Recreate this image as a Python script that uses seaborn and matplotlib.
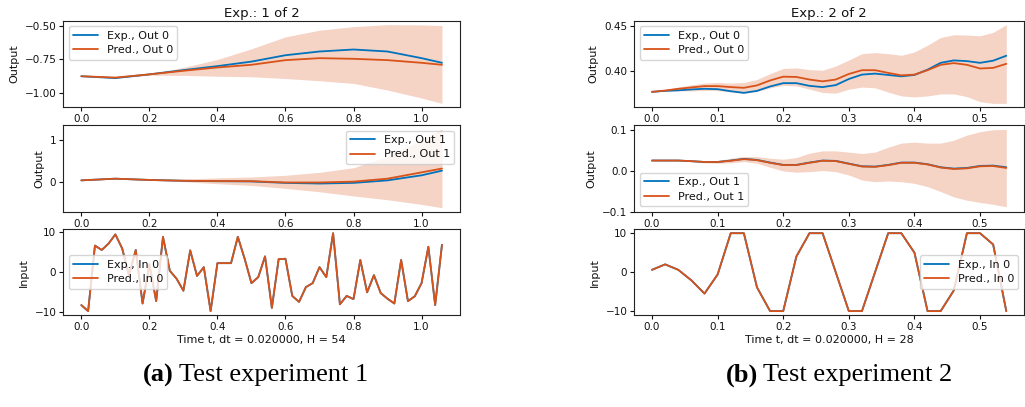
import numpy as np
import pandas as pd
import matplotlib
matplotlib.use("Agg")
import matplotlib.pyplot as plt
import seaborn as sns

sns.set_theme(style="ticks")
plt.rcParams['font.family'] = ['DejaVu Sans']
plt.rcParams['text.color'] = '#111111'
plt.rcParams['axes.labelcolor'] = '#111111'
plt.rcParams['xtick.color'] = '#111111'
plt.rcParams['ytick.color'] = '#111111'

BLUE = '#0072BD'
ORANGE = '#D95319'

# ---------------- Experiment 1 ----------------
t1_out = [0.0, 0.1, 0.2, 0.3, 0.4, 0.5, 0.6, 0.7, 0.8, 0.9, 1.0, 1.06]
e1_out0_exp = [-0.876, -0.890, -0.862, -0.830, -0.800, -0.766, -0.718, -0.690, -0.675, -0.690, -0.740, -0.775]
e1_out0_pred = [-0.876, -0.886, -0.862, -0.835, -0.810, -0.790, -0.755, -0.740, -0.745, -0.755, -0.775, -0.790]
e1_out0_hi = [-0.876, -0.884, -0.858, -0.810, -0.750, -0.670, -0.580, -0.530, -0.503, -0.488, -0.490, -0.495]
e1_out0_lo = [-0.876, -0.890, -0.868, -0.870, -0.876, -0.880, -0.893, -0.910, -0.930, -0.980, -1.040, -1.080]

e1_out1_exp = [0.05, 0.09, 0.06, 0.04, 0.03, 0.025, -0.01, -0.025, -0.01, 0.05, 0.17, 0.28]
e1_out1_pred = [0.05, 0.09, 0.06, 0.04, 0.035, 0.03, 0.0, 0.0, 0.02, 0.09, 0.24, 0.33]
e1_out1_hi = [0.05, 0.10, 0.07, 0.08, 0.11, 0.13, 0.17, 0.24, 0.35, 0.62, 1.02, 1.27]
e1_out1_lo = [0.05, 0.08, 0.05, 0.02, -0.03, -0.07, -0.14, -0.22, -0.32, -0.41, -0.52, -0.60]

t1_in = [round(0.02 * i, 2) for i in range(54)]
e1_in0 = [-8.2, -9.7, 6.7, 5.6, 7.2, 9.5, 6.0, -0.7, 5.6, -7.8, 2.0, -7.2,
          8.9, 0.4, -1.6, -4.6, 5.5, -0.9, 1.3, -9.7, 2.3, 2.3, 2.3, 8.9,
          3.4, -2.7, -1.2, 4.0, -8.9, 3.3, 3.4, -5.9, -7.4, -3.7, -2.7, 1.3,
          -1.2, 9.8, -8.0, -5.9, -6.7, 3.1, -5.0, -0.7, -5.2, -6.6, -7.8, 3.1,
          -7.2, -6.0, -2.7, 6.4, -8.2, 6.9]

# ---------------- Experiment 2 ----------------
t2 = [round(0.02 * i, 2) for i in range(28)]
e2_out0_exp = [0.3763, 0.3774, 0.3780, 0.3790, 0.3797, 0.3793, 0.3770, 0.3752,
               0.3774, 0.3823, 0.3860, 0.3860, 0.3830, 0.3816, 0.3838, 0.3906,
               0.3955, 0.3966, 0.3951, 0.3936, 0.3951, 0.4010, 0.4086, 0.4113,
               0.4105, 0.4086, 0.4110, 0.4165]
e2_out0_pred = [0.3763, 0.3778, 0.3797, 0.3812, 0.3827, 0.3827, 0.3816, 0.3808,
                0.3835, 0.3890, 0.3932, 0.3929, 0.3900, 0.3880, 0.3900, 0.3962,
                0.4004, 0.4004, 0.3974, 0.3947, 0.3955, 0.4004, 0.4064, 0.4083,
                0.4064, 0.4023, 0.4030, 0.4075]
e2_out0_hi = [0.3763, 0.3786, 0.3816, 0.3842, 0.3860, 0.3868, 0.3860, 0.3868,
              0.3900, 0.3966, 0.4023, 0.4030, 0.4010, 0.4004, 0.4050, 0.4117,
              0.4188, 0.4200, 0.4188, 0.4170, 0.4207, 0.4282, 0.4368, 0.4398,
              0.4395, 0.4387, 0.4425, 0.4511]
e2_out0_lo = [0.3763, 0.3770, 0.3774, 0.3774, 0.3778, 0.3778, 0.3763, 0.3748,
              0.3767, 0.3808, 0.3835, 0.3830, 0.3793, 0.3756, 0.3748, 0.3793,
              0.3816, 0.3808, 0.3760, 0.3718, 0.3707, 0.3718, 0.3740, 0.3740,
              0.3710, 0.3654, 0.3635, 0.3635]

e2_out1_exp = [0.0245, 0.0245, 0.0245, 0.0230, 0.0210, 0.0210, 0.0245, 0.0286,
               0.0260, 0.0196, 0.0139, 0.0139, 0.0196, 0.0245, 0.0237, 0.0171,
               0.0106, 0.0098, 0.0139, 0.0196, 0.0196, 0.0155, 0.0082, 0.0049,
               0.0065, 0.0114, 0.0122, 0.0082]
e2_out1_pred = [0.0245, 0.0245, 0.0245, 0.0230, 0.0210, 0.0210, 0.0240, 0.0280,
                0.0255, 0.0190, 0.0135, 0.0135, 0.0190, 0.0240, 0.0232, 0.0165,
                0.0100, 0.0092, 0.0133, 0.0190, 0.0190, 0.0150, 0.0075, 0.0040,
                0.0055, 0.0105, 0.0112, 0.0065]
e2_out1_hi = [0.0245, 0.0245, 0.0245, 0.0240, 0.0237, 0.0245, 0.0300, 0.0343,
              0.0343, 0.0300, 0.0278, 0.0318, 0.0424, 0.0480, 0.0480, 0.0450,
              0.0416, 0.0450, 0.0570, 0.0669, 0.0693, 0.0669, 0.0669, 0.0740,
              0.0865, 0.0947, 0.0996, 0.1000]
e2_out1_lo = [0.0245, 0.0243, 0.0240, 0.0215, 0.0188, 0.0180, 0.0188, 0.0220,
              0.0180, 0.0082, -0.0008, -0.0040, -0.0025, 0.0000, -0.0025, -0.0106,
              -0.0229, -0.0270, -0.0253, -0.0270, -0.0310, -0.0390, -0.0510, -0.0640,
              -0.0720, -0.0776, -0.0820, -0.0880]

e2_in0 = [0.6, 2.0, 0.6, -2.1, -5.5, -0.6, 10.0, 10.0, -3.9, -10.0, -10.0, 4.0,
          10.0, 10.0, 0.0, -10.0, -10.0, 0.0, 10.0, 10.0, 5.0, -10.0, -10.0, -4.7,
          10.0, 10.0, 7.1, -10.0]

captions = [('(a)', 'Test experiment 1'), ('(b)', 'Test experiment 2')]

FS = 7.5
LFS = 8
LW = 1.3

fig = plt.figure(figsize=(10.25, 4.07), dpi=100)

H = 407.0
W = 1025.0
rows = [(20.7, 107.3), (125.0, 211.7), (229.3, 315.0)]
cols = [(63.3, 460.0), (634.3, 1024.0)]


def make_ax(col, row):
    x0, x1 = cols[col]
    ytop, ybot = rows[row]
    return fig.add_axes([x0 / W, 1 - ybot / H, (x1 - x0) / W, (ybot - ytop) / H])


def draw_panel(ax, t, exp, pred, lo, hi, name, ylabel, loc):
    if lo is not None:
        ax.fill_between(t, lo, hi, color=ORANGE, alpha=0.25, linewidth=0)
    df = pd.DataFrame({'t': list(t) * 2,
                       'v': list(exp) + list(pred),
                       'series': [f'Exp., {name}'] * len(t) + [f'Pred., {name}'] * len(t)})
    sns.lineplot(data=df, x='t', y='v', hue='series',
                 palette={f'Exp., {name}': BLUE, f'Pred., {name}': ORANGE},
                 linewidth=LW, ax=ax, legend=True)
    ax.set_xlabel('')
    ax.set_ylabel(ylabel, fontsize=LFS)
    ax.tick_params(labelsize=FS, length=3, width=0.8, pad=2)
    leg = ax.legend(loc=loc, fontsize=LFS, frameon=True, handlelength=2.2,
                    borderpad=0.4, labelspacing=0.4)
    leg.get_frame().set_edgecolor('#cccccc')
    for s in ax.spines.values():
        s.set_linewidth(0.8)
        s.set_color('#222222')


# Left column
ax = make_ax(0, 0)
draw_panel(ax, t1_out, e1_out0_exp, e1_out0_pred, e1_out0_lo, e1_out0_hi, 'Out 0', 'Output', 'upper left')
ax.set_yticks([-1.0, -0.75, -0.5])
ax.set_title('Exp.: 1 of 2', fontsize=9.5, pad=3)

ax = make_ax(0, 1)
draw_panel(ax, t1_out, e1_out1_exp, e1_out1_pred, e1_out1_lo, e1_out1_hi, 'Out 1', 'Output', 'upper right')
ax.set_yticks([0, 1])

ax = make_ax(0, 2)
draw_panel(ax, t1_in, e1_in0, e1_in0, None, None, 'In 0', 'Input', 'center left')
ax.set_yticks([-10, 0, 10])
ax.set_xlabel('Time t, dt = 0.020000, H = 54', fontsize=LFS, labelpad=2)

# Right column
ax = make_ax(1, 0)
draw_panel(ax, t2, e2_out0_exp, e2_out0_pred, e2_out0_lo, e2_out0_hi, 'Out 0', 'Output', 'upper left')
ax.set_yticks([0.40, 0.45])
ax.set_title('Exp.: 2 of 2', fontsize=9.5, pad=3)

ax = make_ax(1, 1)
draw_panel(ax, t2, e2_out1_exp, e2_out1_pred, e2_out1_lo, e2_out1_hi, 'Out 1', 'Output', 'lower left')
ax.set_yticks([-0.1, 0.0, 0.1])
ax.set_ylim(-0.1, 0.111)

ax = make_ax(1, 2)
draw_panel(ax, t2, e2_in0, e2_in0, None, None, 'In 0', 'Input', 'center right')
ax.set_yticks([-10, 0, 10])
ax.set_xlabel('Time t, dt = 0.020000, H = 28', fontsize=LFS, labelpad=2)

# Captions: "(x)" bold then the plain text, placed side by side
CFS = 19
cap_y = 1 - 375 / H
cap_left = [143, 726]
renderer = fig.canvas.get_renderer()
for (lab, txt), xl in zip(captions, cap_left):
    t_a = fig.text(xl / W, cap_y, lab, fontweight='bold', ha='left', va='center',
                   fontsize=CFS, family=['Liberation Serif'], color='black')
    bb = t_a.get_window_extent(renderer=renderer)
    fig.text((bb.x1 + 5) / W, cap_y, txt, ha='left', va='center',
             fontsize=CFS, family=['Liberation Serif'], color='black')

fig.savefig('out.png', dpi=100)
